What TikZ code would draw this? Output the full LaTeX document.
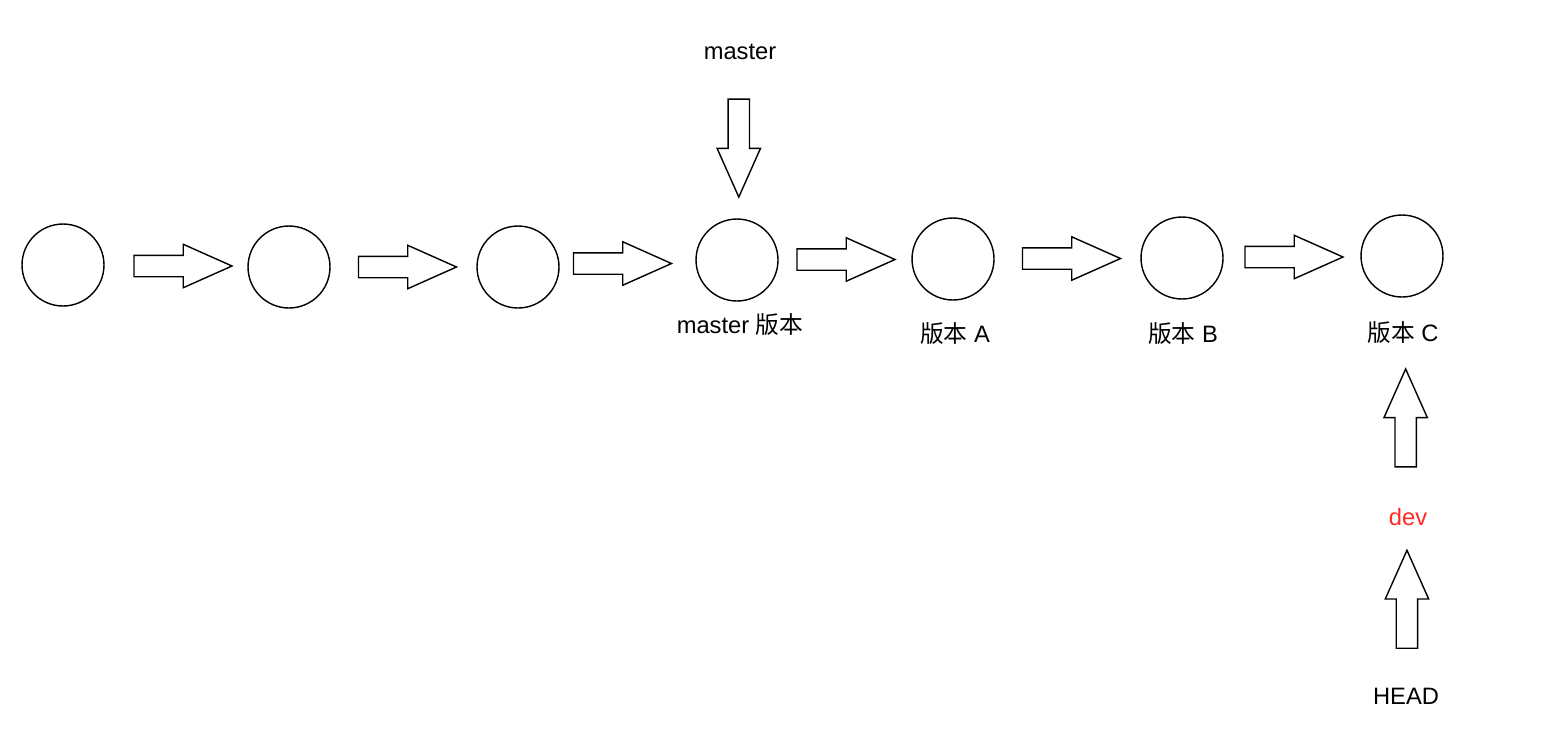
\documentclass[tikz,border=0pt]{standalone}
\usepackage{xcolor}
\usepackage{fontspec}
\setmainfont{Liberation Sans}
\newfontfamily\cjk{Noto Sans CJK SC}
\usepackage{tikz}
\usetikzlibrary{shapes.arrows,positioning}
\definecolor{devred}{HTML}{FF2A22}
\tikzset{
  commit/.style={
    draw,
    circle,
    line width=0.8pt,
    minimum size=1.64cm,
    inner sep=0pt
  },
  fatarrow/.style={
    draw,
    single arrow,
    line width=0.8pt,
    minimum height=1.96cm,
    inner xsep=0pt,
    inner ysep=0.2cm,
    text height=0pt,
    text depth=0pt,
    single arrow head extend=0.22cm,
    single arrow tip angle=48
  },
  reflabel/.style={font=\fontsize{13.5}{16}\selectfont}
}

\begin{document}
\begin{tikzpicture}[x=0.02cm, y=-0.02cm]
\useasboundingbox (0,0) rectangle (1544,738);

\node[commit] (c1) at (63,265) {};
\node[commit] (c2) at (289,267) {};
\node[commit] (c3) at (518,267) {};
\node[commit] (c4) at (737,260) {};
\node[commit] (c5) at (953,259) {};
\node[commit] (c6) at (1182,258) {};
\node[commit] (c7) at (1402,256) {};

\node[reflabel] (lc4) at (740,325) {master {\cjk 版本}};
\node[reflabel] (lc5) at (955,334) {{\cjk 版本} A};
\node[reflabel] (lc6) at (1183,334) {{\cjk 版本} B};
\node[reflabel] (lc7) at (1403,333) {{\cjk 版本} C};

\node[reflabel] (master) at (740,52) {master};
\node[reflabel, text=devred] (dev) at (1408,517) {dev};
\node[reflabel] (head) at (1406,696) {HEAD};

\foreach \a/\b/\s in {c1/c2/5, c2/c3/8, c3/c4/17, c4/c5/11, c5/c6/8, c6/c7/10}
  \path (\a) -- node[fatarrow, xshift=-\s*0.02cm] (to-\b) {} (\b);

\path (master) -- node[fatarrow, rotate=-90, pos=0.46] (mdown) {} (c4);
\path (dev) -- node[fatarrow, rotate=90, pos=0.475] (devup) {} (lc7);
\path (head) -- node[fatarrow, rotate=90, pos=0.47] (headup) {} (dev);
\end{tikzpicture}
\end{document}
